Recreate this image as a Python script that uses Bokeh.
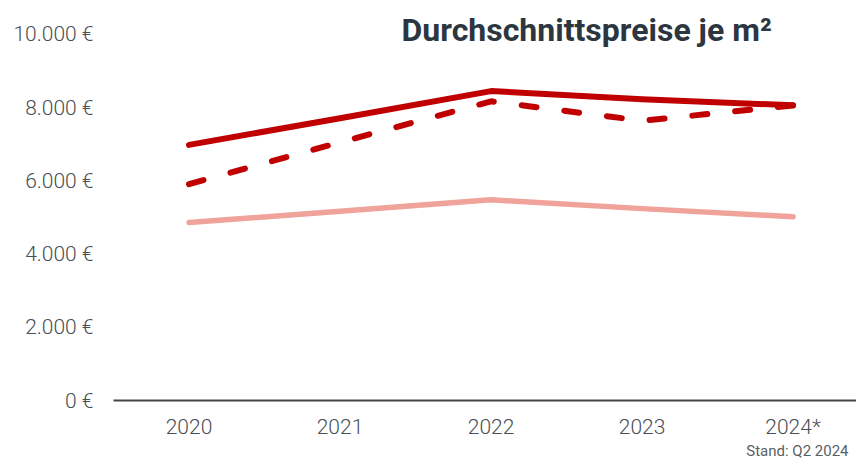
from bokeh.plotting import figure
from bokeh.models import Range1d, FixedTicker, Label, Title
from bokeh.embed import file_html
from bokeh.resources import INLINE

years = [2020, 2021, 2022, 2023, 2024]
year_labels = ["2020", "2021", "2022", "2023", "2024*"]
solid_red = [6980, 7710, 8450, 8230, 8060]
dashed_red = [5910, 7050, 8170, 7640, 8060]
light_red = [4860, 5170, 5480, 5240, 5020]
y_ticks = [0, 2000, 4000, 6000, 8000, 10000]
y_tick_labels = ["0 €", "2.000 €", "4.000 €", "6.000 €", "8.000 €", "10.000 €"]
title_text = "Durchschnittspreise je m²"
note_text = "Stand: Q2 2024"

W, H = 856, 458
p = figure(width=W, height=H, output_backend="svg", toolbar_location=None,
           x_range=Range1d(2019.5, 2024.42), y_range=Range1d(0, 10924),
           min_border_left=113, min_border_right=0, min_border_top=0, min_border_bottom=0)
p.outline_line_color = None
p.xgrid.visible = False
p.ygrid.visible = False
p.background_fill_color = "white"

p.line(years, light_red, line_color="#f0a39b", line_width=5.5, line_cap="round", line_join="round")
p.line(years, solid_red, line_color="#c00000", line_width=6, line_cap="round", line_join="round")
p.line(years, dashed_red, line_color="#c00000", line_width=6, line_cap="round", line_join="round",
       line_dash="15 28")

font = "Roboto Light"
p.xaxis.ticker = FixedTicker(ticks=years)
p.xaxis.major_label_overrides = {y: l for y, l in zip(years, year_labels)}
p.xaxis.major_tick_line_color = None
p.xaxis.minor_tick_line_color = None
p.xaxis.axis_line_color = "#444444"
p.xaxis.axis_line_width = 2
p.xaxis.major_label_text_font = font
p.xaxis.major_label_text_font_size = "21px"
p.xaxis.major_label_text_color = "#4a4f55"
p.xaxis.major_label_standoff = 8

p.yaxis.ticker = FixedTicker(ticks=y_ticks)
p.yaxis.major_label_overrides = {t: l for t, l in zip(y_ticks, y_tick_labels)}
p.yaxis.major_tick_line_color = None
p.yaxis.minor_tick_line_color = None
p.yaxis.axis_line_color = None
p.yaxis.major_label_text_font = font
p.yaxis.major_label_text_font_size = "21px"
p.yaxis.major_label_text_color = "#4a4f55"
p.yaxis.major_label_standoff = 14

p.add_layout(Label(x=288, y=371, x_units="screen", y_units="screen", text=title_text,
                   text_font="Roboto", text_font_style="bold", text_font_size="32px",
                   text_color="#2b3640", text_baseline="alphabetic"))
p.add_layout(Title(text=note_text, align="right", text_font="Roboto", text_font_style="normal",
                   text_font_size="15px", text_color="#5a5f65", standoff=-3, offset=8), "below")

open("out.html", "w").write(file_html(p, INLINE))
